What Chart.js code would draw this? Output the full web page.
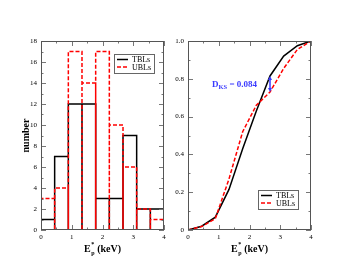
<!DOCTYPE html>
<html>
<head>
<meta charset="utf-8">
<script src="https://cdn.jsdelivr.net/npm/chart.js@4/dist/chart.umd.min.js"></script>
<style>
  html, body { margin:0; padding:0; background:#fff; }
  #wrap { position:relative; width:352px; height:272px; overflow:hidden; }
  #histChart { position:absolute; left:0; top:0; }
  #cdfChart  { position:absolute; left:168px; top:0; }
</style>
</head>
<body>
<div id="wrap">
  <canvas id="histChart" width="176" height="272"></canvas>
  <canvas id="cdfChart" width="184" height="272"></canvas>
</div>
<script>
// ─── Data ────────────────────────────────────────────────
const binEdges  = [0, 0.444, 0.889, 1.333, 1.778, 2.222, 2.667, 3.111, 3.556, 4];
const tblCounts = [1, 7, 12, 12, 3, 3, 9, 2, 2];
const ublCounts = [3, 4, 17, 14, 17, 10, 6, 2, 1];

const cdfX   = [0, 0.444, 0.889, 1.333, 1.778, 2.222, 2.667, 3.111, 3.556, 4];
const tblCdf = [0, 0.02, 0.068, 0.215, 0.43, 0.63, 0.815, 0.92, 0.975, 1.0];
const ublCdf = [0, 0.018, 0.06, 0.27, 0.52, 0.66, 0.73, 0.855, 0.955, 1.0];

const seriesNames = ['TBLs', 'UBLs'];
const ksIndex = 6;
const ksText  = '= 0.084';

const SERIF = "'Liberation Serif', 'Times New Roman', serif";
const RED = '#ff0000', BLACK = '#000000', BLUE = '#3a3aff';

Chart.defaults.font.family = SERIF;
Chart.defaults.color = '#000';

// histogram outline: every bin is its own closed box down to zero
function binOutline(edges, counts) {
  const pts = [];
  counts.forEach((c, i) => {
    pts.push({ x: edges[i], y: 0 }, { x: edges[i], y: c },
             { x: edges[i + 1], y: c }, { x: edges[i + 1], y: 0 });
  });
  return pts;
}

// ─── Plugins ─────────────────────────────────────────────
const frameTicks = {
  id: 'frameTicks',
  afterDatasetsDraw(chart, args, o) {
    const { ctx, chartArea: { left, right, top, bottom }, scales: { x, y } } = chart;
    ctx.save();
    ctx.strokeStyle = '#777'; ctx.lineWidth = 1;
    const seg = (a, b, c, d) => { ctx.beginPath(); ctx.moveTo(a, b); ctx.lineTo(c, d); ctx.stroke(); };
    const isMajor = (v, step) => Math.abs(v / step - Math.round(v / step)) < 1e-6;
    for (let v = x.min; v <= x.max + 1e-9; v += o.xMinor) {
      const px = Math.round(x.getPixelForValue(v)) + 0.5;
      const len = isMajor(v, o.xMajor) ? 5 : 2.5;
      seg(px, bottom, px, bottom - len);
      seg(px, top, px, top + len);
    }
    for (let v = y.min; v <= y.max + 1e-9; v += o.yMinor) {
      const py = Math.round(y.getPixelForValue(v)) + 0.5;
      const len = isMajor(v, o.yMajor) ? 5 : 2.5;
      seg(left, py, left + len, py);
      seg(right, py, right - len, py);
    }
    ctx.strokeStyle = '#555';
    ctx.strokeRect(Math.round(left) + 0.5, Math.round(top) + 0.5,
                   Math.round(right - left) - 1, Math.round(bottom - top) - 1);
    ctx.restore();
  }
};

const boxLegend = {
  id: 'boxLegend',
  afterDraw(chart, args, o) {
    const { ctx, chartArea } = chart;
    const bx = chartArea.left + o.dx, by = chartArea.top + o.dy;
    ctx.save();
    ctx.fillStyle = '#fff';
    ctx.fillRect(bx, by, 40, 19.5);
    ctx.strokeStyle = '#666'; ctx.lineWidth = 1;
    ctx.strokeRect(Math.round(bx) + 0.5, Math.round(by) + 0.5, 40, 19);
    ctx.font = '8px ' + SERIF;
    ctx.textBaseline = 'middle';
    chart.data.datasets.forEach((ds, i) => {
      const ly = by + 6 + i * 7.5;
      ctx.strokeStyle = ds.borderColor; ctx.lineWidth = 1.5;
      ctx.setLineDash(ds.borderDash || []);
      ctx.beginPath(); ctx.moveTo(bx + 3, ly); ctx.lineTo(bx + 14, ly); ctx.stroke();
      ctx.setLineDash([]);
      ctx.fillStyle = '#000';
      ctx.fillText(ds.label, bx + 18, ly + 0.5);
    });
    ctx.restore();
  }
};

const axisTitles = {
  id: 'axisTitles',
  afterDraw(chart, args, o) {
    const { ctx, chartArea: { left, right, top, bottom } } = chart;
    ctx.save();
    ctx.fillStyle = '#000';
    ctx.textBaseline = 'alphabetic';
    // x title: E*p (keV)
    const big = 'bold 10px ' + SERIF, small = 'bold 6px ' + SERIF;
    ctx.font = big;   const wE = ctx.measureText('E').width;
    ctx.font = small; const wS = ctx.measureText('*').width;
    ctx.font = big;   const wK = ctx.measureText(' (keV)').width;
    const total = wE + wS + 1 + wK;
    let x0 = (left + right) / 2 - total / 2;
    const base = bottom + 22;
    ctx.font = big;   ctx.fillText('E', x0, base);
    ctx.font = small; ctx.fillText('*', x0 + wE + 0.5, base - 6);
    ctx.fillText('p', x0 + wE + 0.5, base + 2.5);
    ctx.font = big;   ctx.fillText(' (keV)', x0 + wE + wS + 1, base);
    if (o.yTitle) {
      ctx.translate(o.yTitleX, (top + bottom) / 2);
      ctx.rotate(-Math.PI / 2);
      ctx.textAlign = 'center';
      ctx.textBaseline = 'middle';
      ctx.font = 'bold 10px ' + SERIF;
      ctx.fillText(o.yTitle, 0, 0);
    }
    ctx.restore();
  }
};

const ksMarker = {
  id: 'ksMarker',
  afterDraw(chart) {
    const { ctx, scales: { x, y } } = chart;
    const px = x.getPixelForValue(cdfX[ksIndex]);
    const y1 = y.getPixelForValue(tblCdf[ksIndex]);
    const y2 = y.getPixelForValue(ublCdf[ksIndex]);
    ctx.save();
    ctx.strokeStyle = BLUE; ctx.fillStyle = BLUE; ctx.lineWidth = 1.5;
    ctx.beginPath(); ctx.moveTo(px, y1 + 3); ctx.lineTo(px, y2 - 3); ctx.stroke();
    const head = (yy, dir) => {
      ctx.beginPath(); ctx.moveTo(px, yy);
      ctx.lineTo(px - 2, yy + dir * 4); ctx.lineTo(px + 2, yy + dir * 4); ctx.closePath(); ctx.fill();
    };
    head(y1, 1); head(y2, -1);
    // label D_KS = 0.084
    const big = 'bold 9px ' + SERIF, small = 'bold 6.5px ' + SERIF;
    ctx.font = big;   const wD = ctx.measureText('D').width;
    ctx.font = small; const wKS = ctx.measureText('KS').width;
    ctx.font = big;   const wT = ctx.measureText(' ' + ksText).width;
    const endX = px - 13;
    const sx = endX - (wD + wKS + wT);
    const base = (y1 + y2) / 2 + 3;
    ctx.font = big;   ctx.fillText('D', sx, base);
    ctx.font = small; ctx.fillText('KS', sx + wD, base + 2.5);
    ctx.font = big;   ctx.fillText(' ' + ksText, sx + wD + wKS, base);
    ctx.restore();
  }
};

function lineDs(label, data, color, dashed) {
  return {
    label, data,
    borderColor: color, borderWidth: 1.5,
    borderDash: dashed ? [4, 2] : [],
    pointRadius: 0, tension: 0, fill: false,
  };
}

function axes(yMax, yStep, yWidth, yFmt) {
  return {
    x: {
      type: 'linear', min: 0, max: 4,
      grid: { display: false, drawTicks: false }, border: { display: false },
      ticks: { stepSize: 1, padding: 3, font: { size: 7 }, color: '#000' },
      afterFit: s => { s.height = 42; },
    },
    y: {
      type: 'linear', min: 0, max: yMax,
      grid: { display: false, drawTicks: false }, border: { display: false },
      ticks: { stepSize: yStep, padding: 4, font: { size: 7 }, color: '#000', callback: yFmt },
      afterFit: s => { s.width = yWidth; },
    },
  };
}

// ─── Left: histogram ─────────────────────────────────────
new Chart(document.getElementById('histChart'), {
  type: 'line',
  data: {
    datasets: [
      Object.assign(lineDs(seriesNames[0], binOutline(binEdges, tblCounts), BLACK, false), { order: 2 }),
      Object.assign(lineDs(seriesNames[1], binOutline(binEdges, ublCounts), RED, true), { order: 1 }),
    ],
  },
  options: {
    responsive: false, animation: false,
    layout: { padding: { top: 41, right: 12, left: 0, bottom: 0 } },
    scales: axes(18, 2, 41, v => String(v)),
    plugins: {
      legend: { display: false }, tooltip: { enabled: false },
      frameTicks: { xMajor: 1, xMinor: 0.5, yMajor: 2, yMinor: 1 },
      boxLegend: { dx: 73, dy: 12.5 },
      axisTitles: { yTitle: 'number', yTitleX: 26 },
    },
  },
  plugins: [frameTicks, boxLegend, axisTitles],
});

// ─── Right: cumulative distributions ─────────────────────
new Chart(document.getElementById('cdfChart'), {
  type: 'line',
  data: {
    datasets: [
      Object.assign(lineDs(seriesNames[0], cdfX.map((v, i) => ({ x: v, y: tblCdf[i] })), BLACK, false), { order: 2 }),
      Object.assign(lineDs(seriesNames[1], cdfX.map((v, i) => ({ x: v, y: ublCdf[i] })), RED, true), { order: 1 }),
    ],
  },
  options: {
    responsive: false, animation: false,
    layout: { padding: { top: 41, right: 41, left: 0, bottom: 0 } },
    scales: axes(1, 0.2, 20, v => (v === 0 ? '0' : v.toFixed(1))),
    plugins: {
      legend: { display: false }, tooltip: { enabled: false },
      frameTicks: { xMajor: 1, xMinor: 0.5, yMajor: 0.2, yMinor: 0.1 },
      boxLegend: { dx: 70, dy: 148.5 },
      axisTitles: {},
    },
  },
  plugins: [frameTicks, boxLegend, axisTitles, ksMarker],
});
</script>
</body>
</html>
